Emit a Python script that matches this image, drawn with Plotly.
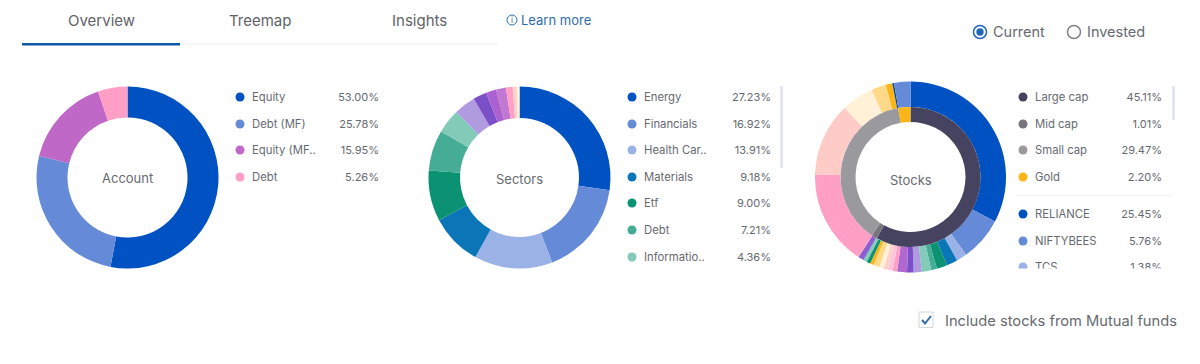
import plotly.graph_objects as go

W, H = 1200, 364
FONT = "Inter"
TXT = "#666a70"

# ---- data ----
account_labels = ["Equity", "Debt (MF)", "Equity (MF..", "Debt"]
account_values = [53.00, 25.78, 15.95, 5.26]
account_colors = ["#0052c2", "#648ad8", "#bf68c8", "#ff9fc6"]

sector_labels = ["Energy", "Financials", "Health Car..", "Materials", "Etf", "Debt", "Informatio.."]
sector_values = [27.23, 16.92, 13.91, 9.18, 9.00, 7.21, 4.36, 3.80, 2.42, 1.83, 1.75, 1.19, 0.70, 0.50]
sector_colors = ["#0052c2", "#648ad8", "#9ab2e6", "#0a76b8", "#0a9273", "#45ad95", "#82cbb8",
                 "#b09ae0", "#7a4fc8", "#ab62d0", "#c078d2", "#ff9fc6", "#ffd0c8", "#fff0d8"]

cap_labels = ["Large cap", "Mid cap", "Small cap", "Gold"]
cap_values = [45.11, 1.01, 29.47, 2.20]
cap_colors = ["#45435f", "#77767f", "#99999e", "#fbb516"]

stock_labels = ["RELIANCE", "NIFTYBEES", "TCS"]
stock_values = [25.45, 5.76, 1.38, 1.45, 1.38, 0.76, 1.23, 1.08, 0.86, 1.30, 0.58, 0.63, 0.56, 0.61,
                0.78, 0.48, 0.50, 0.48, 0.76, 12.66, 9.66, 4.26, 1.94, 0.86, 0.22, 2.16]
stock_colors = ["#0052c2", "#648ad8", "#9ab2e6", "#0a76b8", "#0a9273", "#45ad95", "#82cbb8",
                "#b09ae0", "#7a4fc8", "#b068d0", "#ff9fc6", "#ffc4dc", "#ffd0c8", "#fff0d8",
                "#ffd98a", "#fbb516", "#0a9273", "#82cbb8", "#9ab2e6", "#ff9fc6", "#ffcbc6",
                "#fff0d8", "#ffd98a", "#fbb516", "#0a4a90", "#648ad8"]
stock_colors[18] = "#8a5fd0"

tab_labels = ["Overview", "Treemap", "Insights"]


def dom(cx, cy, r):
    return dict(x=[(cx - r) / W, (cx + r) / W], y=[1 - (cy + r) / H, 1 - (cy - r) / H])


def pie(values, colors, cx, cy, r, inner):
    return go.Pie(values=values, marker=dict(colors=colors, line=dict(width=0)), sort=False,
                  direction="clockwise", rotation=0, hole=inner / r, textinfo="none",
                  hoverinfo="skip", showlegend=False, domain=dom(cx, cy, r))


fig = go.Figure()
fig.add_trace(pie(account_values, account_colors, 127.5, 177.5, 91, 60))
fig.add_trace(pie(sector_values, sector_colors, 519.5, 177.5, 91, 59.5))
fig.add_trace(pie(stock_values, stock_colors, 910.5, 177, 95.5, 70))
fig.add_trace(pie(cap_values, cap_colors, 910.5, 177, 70, 55))


def legend(x_dot, x_val, rows, labels, values, colors):
    fig.add_trace(go.Scatter(x=[x_dot] * len(rows), y=rows, mode="markers", hoverinfo="skip",
                             marker=dict(size=9, color=colors, line=dict(width=0)), showlegend=False))
    text_rows = [r + 1 for r in rows]
    fig.add_trace(go.Scatter(x=[x_dot + 12] * len(rows), y=text_rows, mode="text", text=labels,
                             textposition="middle right", hoverinfo="skip", showlegend=False,
                             textfont=dict(family=FONT, size=11.3, color=TXT)))
    fig.add_trace(go.Scatter(x=[x_val] * len(rows), y=text_rows, mode="text",
                             text=[f"{v:.2f}%" for v in values],
                             textposition="middle left", hoverinfo="skip", showlegend=False,
                             textfont=dict(family=FONT, size=11, color=TXT)))


legend(240, 379, [97, 124, 150, 177], account_labels, account_values, account_colors)
legend(632, 771, [97, 124, 150, 177, 203, 230, 257], sector_labels, sector_values[:7], sector_colors[:7])
legend(1023, 1162, [97, 124, 150, 177, 214, 241, 267], cap_labels + stock_labels,
       cap_values + stock_values[:3], cap_colors + stock_colors[:3])


def note(x, y, text, size, color=TXT, anchor="center"):
    fig.add_annotation(x=x, y=y, xref="x", yref="y", text=text, showarrow=False, xanchor=anchor,
                       yanchor="middle", font=dict(family=FONT, size=size, color=color))


for tx, label in zip([101, 260, 419], tab_labels):
    note(tx, 20, label, 15, "#5f6368")
note(127.5, 178, "Account", 13)
note(519.5, 179, "Sectors", 13)
note(910.5, 180, "Stocks", 13)
note(519, 19.5, "Learn more", 13, "#2f6cab", "left")
note(512, 20, "i", 8, "#2f6cab")
note(991, 31.5, "Current", 14.5, TXT, "left")
note(1085, 31.5, "Invested", 14.5, TXT, "left")
note(943, 320.5, "Include stocks from Mutual funds", 14.7, TXT, "left")


def rect(x0, y0, x1, y1, color, layer="above"):
    return dict(type="rect", xref="x", yref="y", x0=x0, y0=y0, x1=x1, y1=y1, layer=layer,
                fillcolor=color, line=dict(width=0))


def ring(cx, cy, r, color, width, fill="rgba(0,0,0,0)"):
    return dict(type="circle", xref="x", yref="y", x0=cx - r, y0=cy - r, x1=cx + r, y1=cy + r,
                line=dict(color=color, width=width), fillcolor=fill)


fig.update_layout(
    width=W, height=H, margin=dict(l=0, r=0, t=0, b=0), paper_bgcolor="white", plot_bgcolor="white",
    showlegend=False,
    xaxis=dict(range=[0, W], visible=False, fixedrange=True),
    yaxis=dict(range=[H, 0], visible=False, fixedrange=True),
    shapes=[
        rect(1012, 268.5, 1172, 295, "white"),            # list clip
        rect(180, 43.5, 498, 45, "#f3f4f6"),               # tab rule
        rect(22, 43, 180, 45.5, "#0f57a8"),                # active tab
        rect(780, 86, 783, 168, "#e3e5f2"),                # scrollbars
        rect(1172, 86, 1175, 120, "#e3e5f2"),
        rect(1016, 195, 1172, 196, "#f2f3f5"),             # legend divider
        ring(512, 20, 5, "#2f6cab", 1),
        ring(980, 32, 6.5, "#2267b8", 1.5),
        ring(980, 32, 3.7, "#2267b8", 0, "#2267b8"),
        ring(1074, 32, 6.5, "#808488", 1.5),
        dict(type="path", xref="x", yref="y", path="M 919 312 H 933 V 327.5 H 919 Z",
             line=dict(color="#d4d6da", width=1), fillcolor="white"),
        dict(type="path", xref="x", yref="y", path="M 922 320 L 925 323.5 L 931 316",
             line=dict(color="#2f6cab", width=2)),
    ],
)
fig.write_html("out.html", config={"displayModeBar": False},
               post_script="document.body.style.margin='0';document.documentElement.style.overflow='hidden';")
